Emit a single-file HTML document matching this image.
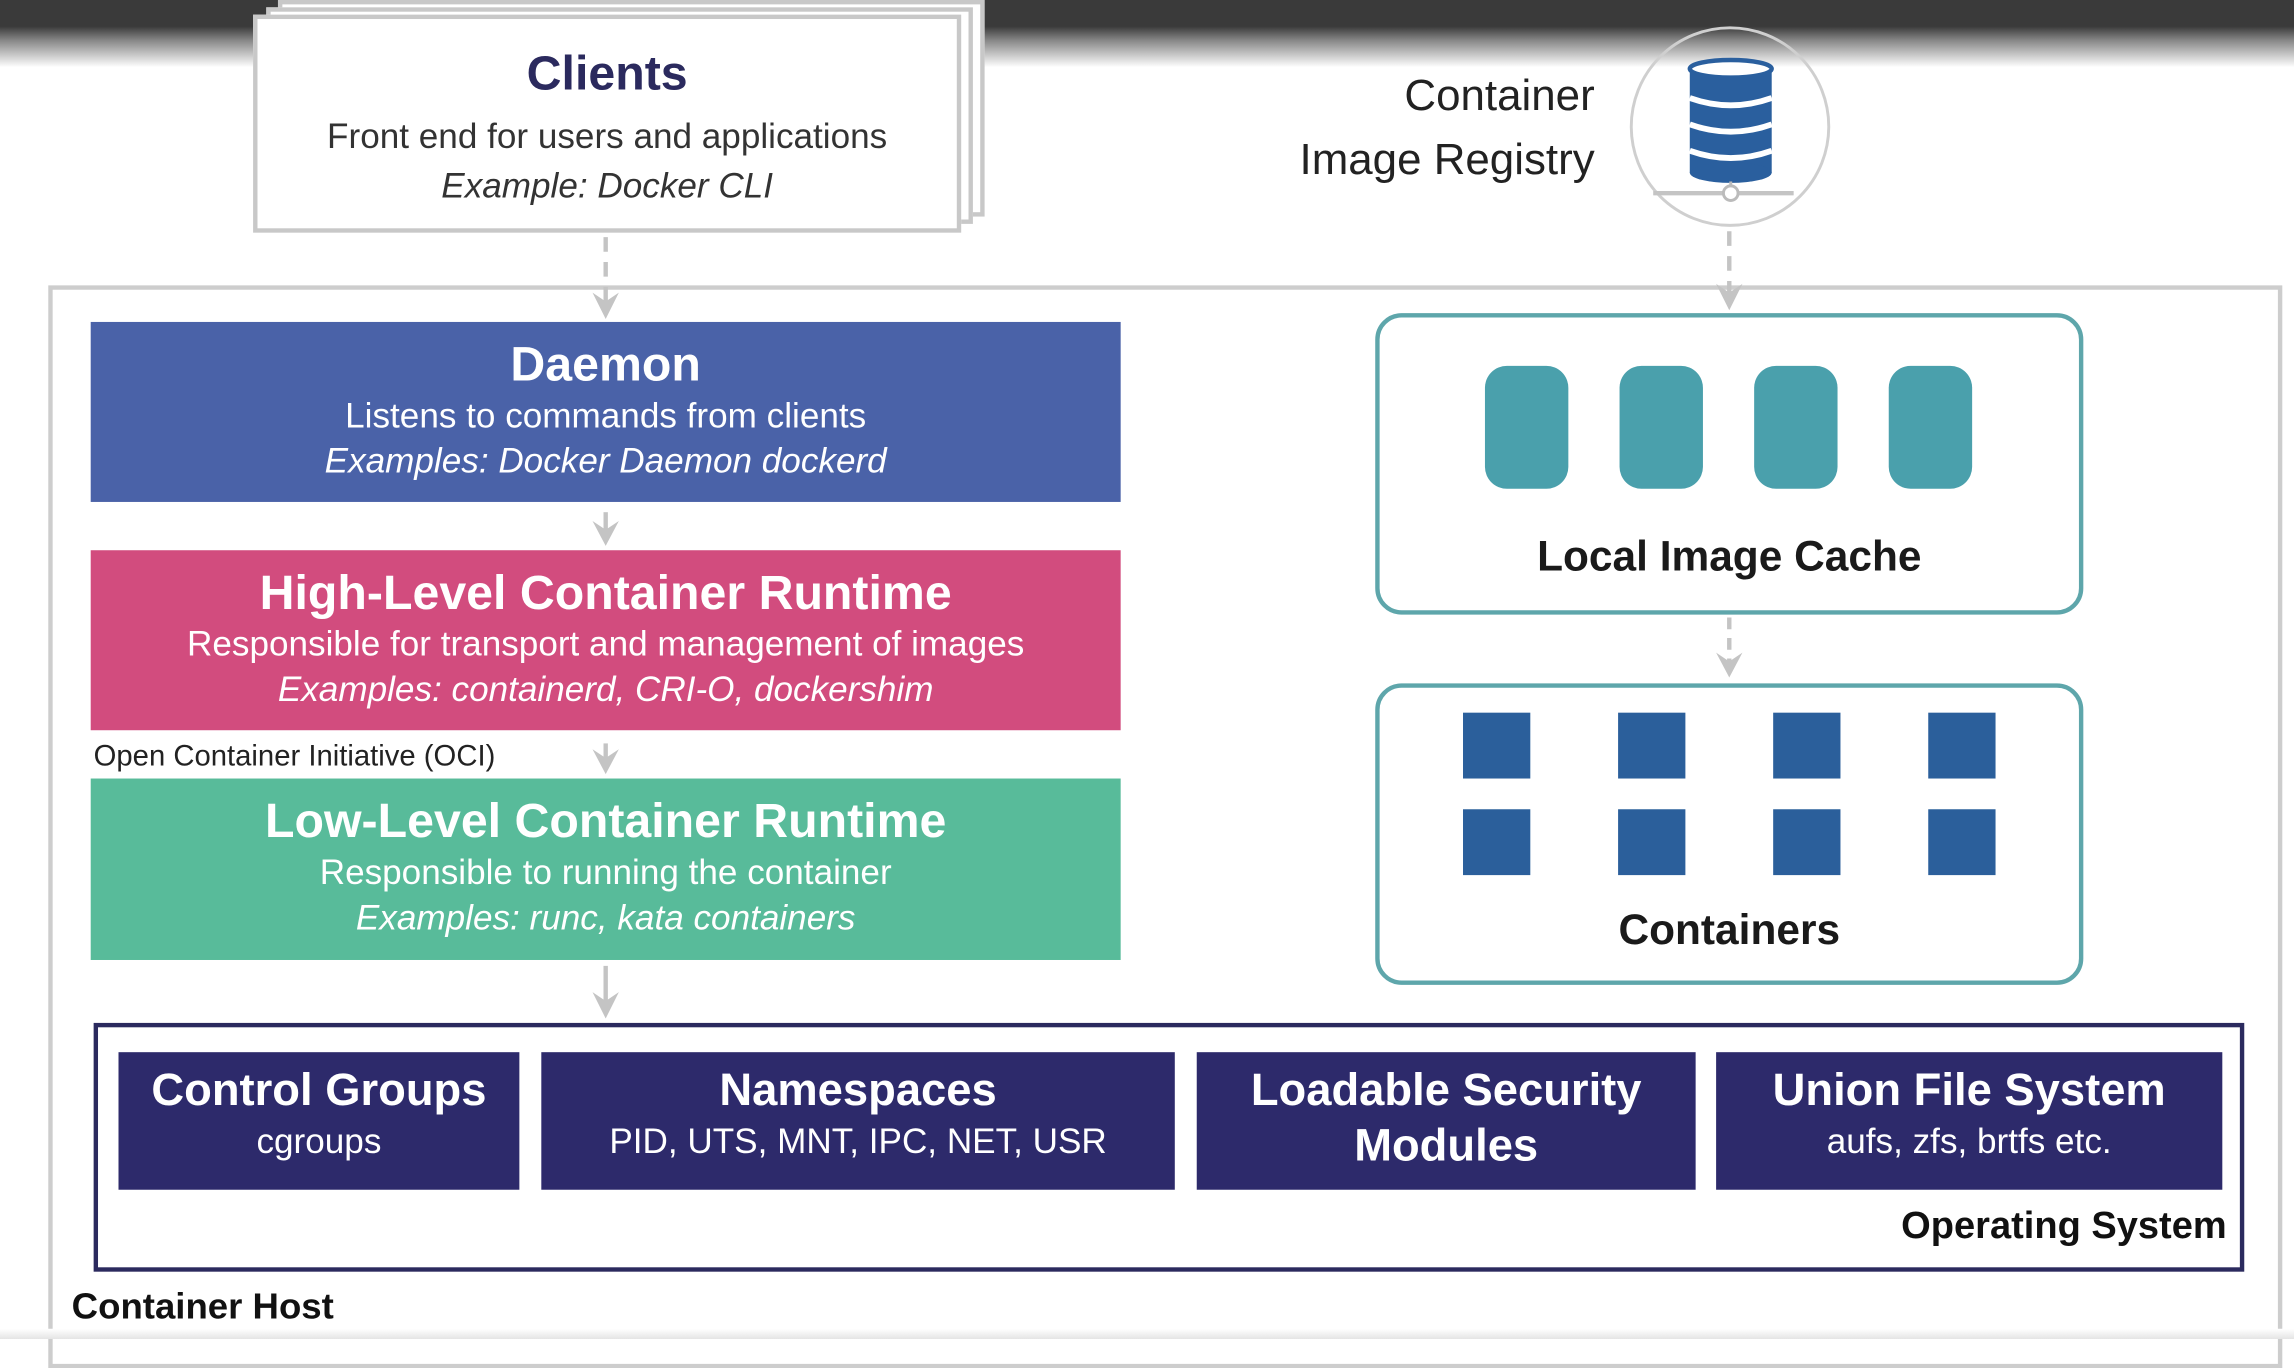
<!DOCTYPE html>
<html><head><meta charset="utf-8">
<style>
html,body{margin:0;padding:0;width:2294px;height:1339px;overflow:hidden;background:#fff;}
#w{position:absolute;left:0;top:0;width:1568px;height:915px;transform:scale(1.46301,1.46339);transform-origin:0 0;font-family:"Liberation Sans",sans-serif;}
.a{position:absolute;box-sizing:border-box;}
.t{position:absolute;left:0;right:0;text-align:center;white-space:nowrap;}
.b{font-weight:bold;}
.i{font-style:italic;}
.box{color:#fff;}
.os{background:#2d2a6b;color:#fff;}
</style></head><body>
<div id="w">
<div class="a" style="left:0;top:0;width:1568px;height:48px;background:linear-gradient(#3a3a3a 0,#3a3a3a 18px,#8a8a8a 28px,#fff 46px);"></div>

<div class="a" style="left:190px;top:0;width:483px;height:148px;border:3px solid #c8c8c8;background:#fff;"></div>
<div class="a" style="left:182px;top:5px;width:483px;height:148px;border:3px solid #c8c8c8;background:#fff;"></div>
<div class="a" style="left:173px;top:10px;width:484px;height:149px;border:3px solid #c8c8c8;background:#fff;">
  <div class="t b" style="top:18px;font-size:33px;color:#2b2a5e;">Clients</div>
  <div class="t" style="top:67px;font-size:24px;color:#333;">Front end for users and applications</div>
  <div class="t i" style="top:101px;font-size:24px;color:#333;">Example: Docker CLI</div>
</div>

<div class="a" style="left:800px;top:44px;width:290px;text-align:right;font-size:30px;color:#222;line-height:44px;">Container<br>Image Registry</div>
<div class="a" style="left:1114px;top:18px;width:137px;height:137px;border:2px solid #cfcfcf;border-radius:50%;"></div>
<svg class="a" style="left:1120px;top:30px" width="130" height="120">
  <g fill="#2a5f9e">
    <rect x="35" y="16" width="56" height="72"/>
    <ellipse cx="63" cy="88" rx="28" ry="7"/>
  </g>
  <ellipse cx="63" cy="17" rx="28" ry="6" fill="#fff" stroke="#2a5f9e" stroke-width="3"/>
  <path d="M35 37 Q63 47 91 37 M35 55 Q63 65 91 55 M35 73 Q63 83 91 73" stroke="#fff" stroke-width="4" fill="none"/>
  <line x1="63" y1="94" x2="63" y2="102" stroke="#bbb" stroke-width="2"/>
  <line x1="10" y1="102" x2="106" y2="102" stroke="#c4c4c4" stroke-width="3"/>
  <circle cx="63" cy="102" r="5" fill="#fff" stroke="#bbb" stroke-width="2"/>
</svg>

<div class="a" style="left:33px;top:195px;width:1527px;height:740px;border:3px solid #cdcdcd;"></div>
<div class="a" style="left:0;top:908px;width:1568px;height:7px;background:linear-gradient(#fff,#e4e4e4);"></div>

<svg class="a" style="left:0;top:0" width="1568" height="915">
  <g stroke="#c4c4c4" stroke-width="3" fill="none">
    <line x1="414" y1="162" x2="414" y2="212" stroke-dasharray="10,7"/>
    <line x1="1182" y1="158" x2="1182" y2="206" stroke-dasharray="10,7"/>
    <line x1="414" y1="350" x2="414" y2="368"/>
    <line x1="414" y1="508" x2="414" y2="524"/>
    <line x1="414" y1="660" x2="414" y2="690"/>
    <line x1="1182" y1="422" x2="1182" y2="456" stroke-dasharray="8,6"/>
  </g>
  <g fill="#c4c4c4">
    <path d="M405 200 L414 218 L423 200 L414 206Z"/>
    <path d="M1173 194 L1182 212 L1191 194 L1182 200Z"/>
    <path d="M405 356 L414 373 L423 356 L414 362Z"/>
    <path d="M405 512 L414 529 L423 512 L414 518Z"/>
    <path d="M405 678 L414 696 L423 678 L414 684Z"/>
    <path d="M1173 446 L1182 463 L1191 446 L1182 452Z"/>
  </g>
</svg>

<div class="a box" style="left:62px;top:220px;width:704px;height:123px;background:#4a62a8;">
  <div class="t b" style="top:10px;font-size:33px;">Daemon</div>
  <div class="t" style="top:51px;font-size:24px;">Listens to commands from clients</div>
  <div class="t i" style="top:82px;font-size:24px;">Examples: Docker Daemon dockerd</div>
</div>
<div class="a box" style="left:62px;top:376px;width:704px;height:123px;background:#d24c7e;">
  <div class="t b" style="top:10px;font-size:33px;">High-Level Container Runtime</div>
  <div class="t" style="top:51px;font-size:24px;">Responsible for transport and management of images</div>
  <div class="t i" style="top:82px;font-size:24px;">Examples: containerd, CRI-O, dockershim</div>
</div>
<div class="a" style="left:64px;top:506px;font-size:20px;color:#222;white-space:nowrap;">Open Container Initiative (OCI)</div>
<div class="a box" style="left:62px;top:532px;width:704px;height:124px;background:#58bb9a;">
  <div class="t b" style="top:10px;font-size:33px;">Low-Level Container Runtime</div>
  <div class="t" style="top:51px;font-size:24px;">Responsible to running the container</div>
  <div class="t i" style="top:82px;font-size:24px;">Examples: runc, kata containers</div>
</div>

<div class="a" style="left:940px;top:214px;width:484px;height:206px;border:3px solid #5ea6ab;border-radius:18px;">
  <div class="t b" style="top:148px;font-size:29px;color:#1a1a1a;">Local Image Cache</div>
</div>
<div class="a" style="left:1015px;top:250px;width:57px;height:84px;background:#4aa0ac;border-radius:15px;"></div>
<div class="a" style="left:1107px;top:250px;width:57px;height:84px;background:#4aa0ac;border-radius:15px;"></div>
<div class="a" style="left:1199px;top:250px;width:57px;height:84px;background:#4aa0ac;border-radius:15px;"></div>
<div class="a" style="left:1291px;top:250px;width:57px;height:84px;background:#4aa0ac;border-radius:15px;"></div>

<div class="a" style="left:940px;top:467px;width:484px;height:206px;border:3px solid #5ea6ab;border-radius:18px;">
  <div class="t b" style="top:150px;font-size:29px;color:#1a1a1a;">Containers</div>
</div>
<div class="a" style="left:1000px;top:487px;width:46px;height:45px;background:#2b5f9b;"></div>
<div class="a" style="left:1106px;top:487px;width:46px;height:45px;background:#2b5f9b;"></div>
<div class="a" style="left:1212px;top:487px;width:46px;height:45px;background:#2b5f9b;"></div>
<div class="a" style="left:1318px;top:487px;width:46px;height:45px;background:#2b5f9b;"></div>
<div class="a" style="left:1000px;top:553px;width:46px;height:45px;background:#2b5f9b;"></div>
<div class="a" style="left:1106px;top:553px;width:46px;height:45px;background:#2b5f9b;"></div>
<div class="a" style="left:1212px;top:553px;width:46px;height:45px;background:#2b5f9b;"></div>
<div class="a" style="left:1318px;top:553px;width:46px;height:45px;background:#2b5f9b;"></div>

<div class="a" style="left:64px;top:699px;width:1470px;height:170px;border:3px solid #2b2a5e;"></div>
<div class="a os" style="left:81px;top:719px;width:274px;height:94px;">
  <div class="t b" style="top:8px;font-size:31px;">Control Groups</div>
  <div class="t" style="top:48px;font-size:24px;">cgroups</div>
</div>
<div class="a os" style="left:370px;top:719px;width:433px;height:94px;">
  <div class="t b" style="top:8px;font-size:31px;">Namespaces</div>
  <div class="t" style="top:48px;font-size:24px;">PID, UTS, MNT, IPC, NET, USR</div>
</div>
<div class="a os" style="left:818px;top:719px;width:341px;height:94px;">
  <div class="t b" style="top:8px;font-size:31px;">Loadable Security</div>
  <div class="t b" style="top:46px;font-size:31px;">Modules</div>
</div>
<div class="a os" style="left:1173px;top:719px;width:346px;height:94px;">
  <div class="t b" style="top:8px;font-size:31px;">Union File System</div>
  <div class="t" style="top:48px;font-size:24px;">aufs, zfs, brtfs etc.</div>
</div>
<div class="a b" style="left:1200px;top:822px;width:322px;text-align:right;font-size:26px;color:#111;white-space:nowrap;">Operating System</div>
<div class="a b" style="left:49px;top:879px;font-size:25px;color:#111;white-space:nowrap;">Container Host</div>
</div>
</body></html>
